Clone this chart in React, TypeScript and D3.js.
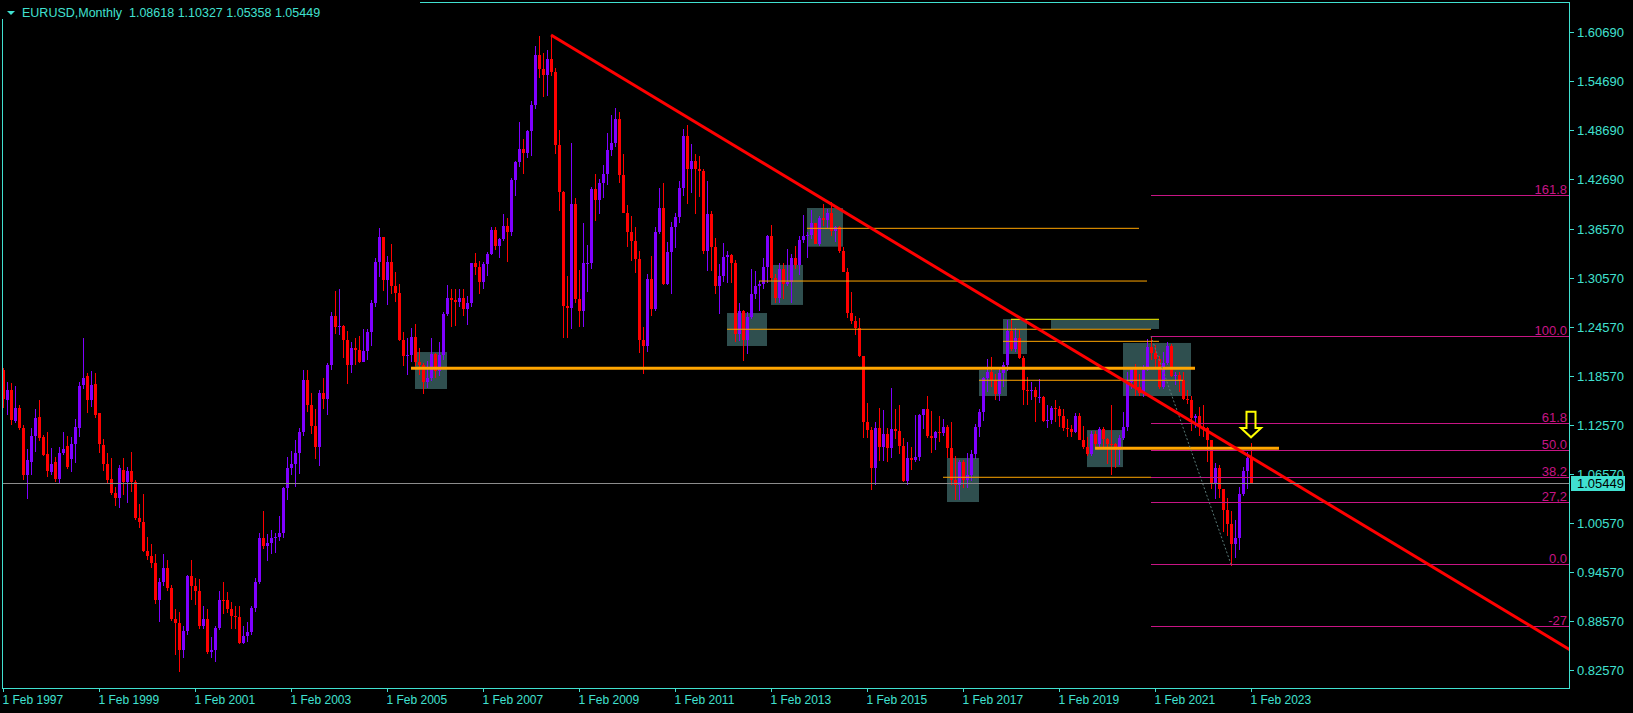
import * as d3 from "d3";

// Monthly EURUSD candles, Feb 1997 .. Feb 2023 (one row per year)
const opens = [
  1.193, 1.156, 1.169, 1.131, 1.147, 1.122, 1.064, 1.081, 1.113, 1.136, 1.111,
  1.090, 1.068, 1.080, 1.060, 1.091, 1.100, 1.084, 1.102, 1.122, 1.175, 1.186, 1.156,
  1.176, 1.140, 1.101, 1.078, 1.060, 1.043, 1.037, 1.071, 1.056, 1.069, 1.056, 1.012,
  1.007, 0.972, 0.965, 0.957, 0.911, 0.934, 0.951, 0.926, 0.888, 0.883, 0.850, 0.873,
  0.941, 0.929, 0.922, 0.880, 0.888, 0.848, 0.850, 0.877, 0.912, 0.911, 0.901, 0.892,
  0.890, 0.859, 0.867, 0.872, 0.902, 0.934, 0.987, 0.977, 0.981, 0.987, 0.989, 0.993,
  1.049, 1.073, 1.078, 1.091, 1.117, 1.181, 1.150, 1.125, 1.099, 1.165, 1.158, 1.199,
  1.259, 1.246, 1.247, 1.230, 1.199, 1.220, 1.218, 1.203, 1.217, 1.240, 1.275, 1.326,
  1.356, 1.304, 1.326, 1.296, 1.288, 1.230, 1.210, 1.212, 1.234, 1.203, 1.199, 1.179,
  1.183, 1.213, 1.192, 1.212, 1.262, 1.281, 1.279, 1.276, 1.282, 1.268, 1.275, 1.325,
  1.320, 1.301, 1.323, 1.336, 1.365, 1.345, 1.354, 1.370, 1.363, 1.426, 1.448, 1.464,
  1.459, 1.486, 1.518, 1.579, 1.562, 1.555, 1.575, 1.558, 1.469, 1.411, 1.272, 1.269,
  1.397, 1.280, 1.266, 1.325, 1.325, 1.415, 1.402, 1.423, 1.434, 1.463, 1.472, 1.501,
  1.432, 1.386, 1.363, 1.351, 1.329, 1.230, 1.223, 1.305, 1.268, 1.363, 1.392, 1.299,
  1.338, 1.369, 1.381, 1.416, 1.480, 1.440, 1.450, 1.439, 1.437, 1.339, 1.385, 1.344,
  1.296, 1.308, 1.332, 1.334, 1.324, 1.237, 1.266, 1.230, 1.258, 1.286, 1.296, 1.299,
  1.319, 1.358, 1.306, 1.282, 1.317, 1.299, 1.301, 1.330, 1.322, 1.352, 1.358, 1.359,
  1.374, 1.348, 1.380, 1.377, 1.386, 1.364, 1.369, 1.339, 1.313, 1.263, 1.253, 1.245,
  1.210, 1.129, 1.120, 1.073, 1.122, 1.099, 1.115, 1.098, 1.121, 1.118, 1.100, 1.057,
  1.086, 1.083, 1.087, 1.138, 1.145, 1.113, 1.110, 1.117, 1.116, 1.124, 1.098, 1.059,
  1.052, 1.080, 1.058, 1.065, 1.090, 1.124, 1.142, 1.184, 1.191, 1.181, 1.164, 1.190,
  1.200, 1.241, 1.219, 1.232, 1.208, 1.169, 1.168, 1.169, 1.160, 1.160, 1.131, 1.132,
  1.147, 1.145, 1.137, 1.122, 1.121, 1.117, 1.137, 1.108, 1.099, 1.090, 1.115, 1.102,
  1.121, 1.109, 1.103, 1.102, 1.095, 1.110, 1.123, 1.178, 1.194, 1.172, 1.165, 1.193,
  1.221, 1.214, 1.207, 1.173, 1.202, 1.223, 1.186, 1.187, 1.181, 1.158, 1.156, 1.134,
  1.137, 1.123, 1.122, 1.107, 1.054, 1.073, 1.048, 1.022, 1.005, 0.980, 0.988, 1.041,
  1.070, 1.08618,
];
const highs = [
  1.196, 1.178, 1.177, 1.174, 1.151, 1.126, 1.097, 1.122, 1.146, 1.156, 1.114,
  1.117, 1.098, 1.087, 1.099, 1.117, 1.112, 1.111, 1.133, 1.179, 1.233, 1.190, 1.192,
  1.190, 1.141, 1.109, 1.091, 1.086, 1.050, 1.077, 1.085, 1.075, 1.093, 1.059, 1.029,
  1.041, 0.989, 0.980, 0.968, 0.939, 0.968, 0.961, 0.930, 0.901, 0.897, 0.879, 0.942,
  0.960, 0.939, 0.937, 0.904, 0.900, 0.866, 0.880, 0.923, 0.933, 0.921, 0.909, 0.904,
  0.904, 0.879, 0.884, 0.904, 0.938, 0.994, 1.020, 0.992, 0.997, 0.994, 1.014, 1.050,
  1.087, 1.094, 1.108, 1.122, 1.193, 1.193, 1.165, 1.146, 1.169, 1.183, 1.202, 1.264,
  1.290, 1.293, 1.248, 1.241, 1.227, 1.232, 1.235, 1.243, 1.244, 1.279, 1.330, 1.367,
  1.356, 1.333, 1.348, 1.313, 1.299, 1.240, 1.233, 1.245, 1.250, 1.220, 1.202, 1.204,
  1.232, 1.214, 1.228, 1.264, 1.298, 1.292, 1.292, 1.292, 1.292, 1.284, 1.325, 1.337,
  1.327, 1.326, 1.338, 1.368, 1.368, 1.355, 1.385, 1.379, 1.428, 1.450, 1.497, 1.476,
  1.487, 1.523, 1.590, 1.602, 1.582, 1.585, 1.604, 1.563, 1.487, 1.413, 1.308, 1.472,
  1.404, 1.316, 1.374, 1.347, 1.418, 1.434, 1.427, 1.445, 1.484, 1.506, 1.514, 1.510,
  1.458, 1.396, 1.382, 1.369, 1.339, 1.246, 1.311, 1.333, 1.368, 1.416, 1.422, 1.350,
  1.375, 1.386, 1.425, 1.488, 1.494, 1.470, 1.458, 1.455, 1.440, 1.425, 1.388, 1.355,
  1.323, 1.349, 1.339, 1.336, 1.328, 1.275, 1.267, 1.264, 1.317, 1.314, 1.302, 1.331,
  1.359, 1.371, 1.311, 1.324, 1.324, 1.342, 1.335, 1.345, 1.357, 1.383, 1.362, 1.389,
  1.374, 1.382, 1.397, 1.391, 1.3995, 1.370, 1.370, 1.344, 1.318, 1.289, 1.260, 1.257,
  1.211, 1.153, 1.124, 1.129, 1.147, 1.144, 1.122, 1.171, 1.146, 1.150, 1.110, 1.105,
  1.099, 1.138, 1.139, 1.146, 1.162, 1.143, 1.119, 1.137, 1.133, 1.126, 1.130, 1.088,
  1.083, 1.083, 1.091, 1.095, 1.127, 1.145, 1.185, 1.207, 1.209, 1.188, 1.196, 1.203,
  1.254, 1.256, 1.245, 1.242, 1.210, 1.185, 1.179, 1.173, 1.182, 1.162, 1.150, 1.149,
  1.157, 1.149, 1.145, 1.133, 1.126, 1.141, 1.141, 1.125, 1.111, 1.118, 1.118, 1.124,
  1.124, 1.110, 1.150, 1.104, 1.114, 1.142, 1.191, 1.197, 1.201, 1.188, 1.200, 1.231,
  1.235, 1.224, 1.211, 1.215, 1.227, 1.225, 1.191, 1.191, 1.191, 1.169, 1.161, 1.139,
  1.148, 1.150, 1.123, 1.108, 1.079, 1.077, 1.048, 1.037, 1.020, 1.009, 1.050, 1.074,
  1.093, 1.10327,
];
const lows = [
  1.147, 1.138, 1.126, 1.128, 1.120, 1.058, 1.035, 1.064, 1.093, 1.106, 1.088,
  1.062, 1.065, 1.056, 1.054, 1.089, 1.072, 1.068, 1.079, 1.111, 1.170, 1.141, 1.148,
  1.134, 1.092, 1.069, 1.054, 1.040, 1.027, 1.024, 1.040, 1.030, 1.044, 1.009, 1.000,
  0.970, 0.961, 0.951, 0.906, 0.885, 0.929, 0.922, 0.886, 0.844, 0.823, 0.840, 0.868,
  0.912, 0.905, 0.876, 0.876, 0.845, 0.840, 0.836, 0.875, 0.894, 0.895, 0.876, 0.876,
  0.858, 0.857, 0.860, 0.868, 0.897, 0.931, 0.974, 0.959, 0.968, 0.969, 0.984, 0.987,
  1.034, 1.064, 1.050, 1.066, 1.112, 1.142, 1.115, 1.084, 1.076, 1.145, 1.138, 1.193,
  1.237, 1.236, 1.208, 1.176, 1.190, 1.200, 1.202, 1.203, 1.206, 1.223, 1.270, 1.307,
  1.290, 1.273, 1.286, 1.277, 1.229, 1.198, 1.187, 1.203, 1.198, 1.187, 1.164, 1.171,
  1.180, 1.183, 1.186, 1.206, 1.260, 1.246, 1.247, 1.270, 1.260, 1.248, 1.271, 1.310,
  1.287, 1.293, 1.308, 1.334, 1.340, 1.330, 1.351, 1.326, 1.357, 1.406, 1.442, 1.434,
  1.453, 1.456, 1.513, 1.551, 1.528, 1.529, 1.553, 1.458, 1.388, 1.233, 1.233, 1.244,
  1.275, 1.246, 1.246, 1.289, 1.317, 1.376, 1.385, 1.404, 1.420, 1.455, 1.467, 1.422,
  1.386, 1.344, 1.327, 1.312, 1.214, 1.188, 1.215, 1.259, 1.265, 1.360, 1.297, 1.297,
  1.286, 1.343, 1.374, 1.406, 1.397, 1.410, 1.384, 1.405, 1.336, 1.314, 1.314, 1.286,
  1.262, 1.301, 1.300, 1.300, 1.228, 1.229, 1.204, 1.213, 1.256, 1.280, 1.266, 1.292,
  1.300, 1.302, 1.275, 1.275, 1.280, 1.296, 1.275, 1.317, 1.310, 1.349, 1.330, 1.354,
  1.348, 1.345, 1.370, 1.367, 1.358, 1.350, 1.337, 1.313, 1.257, 1.250, 1.236, 1.209,
  1.110, 1.110, 1.046, 1.052, 1.082, 1.082, 1.081, 1.085, 1.109, 1.090, 1.056, 1.052,
  1.071, 1.081, 1.082, 1.121, 1.110, 1.091, 1.095, 1.105, 1.112, 1.085, 1.052, 1.034,
  1.034, 1.049, 1.049, 1.057, 1.084, 1.111, 1.131, 1.166, 1.172, 1.157, 1.155, 1.172,
  1.192, 1.216, 1.215, 1.207, 1.151, 1.151, 1.157, 1.130, 1.153, 1.130, 1.122, 1.127,
  1.129, 1.123, 1.118, 1.111, 1.111, 1.116, 1.107, 1.096, 1.088, 1.088, 1.098, 1.098,
  1.099, 1.078, 1.064, 1.073, 1.077, 1.108, 1.119, 1.170, 1.161, 1.162, 1.160, 1.192,
  1.206, 1.195, 1.170, 1.170, 1.199, 1.185, 1.175, 1.166, 1.156, 1.152, 1.119, 1.122,
  1.112, 1.111, 1.081, 1.047, 1.035, 1.036, 0.995, 0.990, 0.9536, 0.963, 0.973, 1.039,
  1.048, 1.05358,
];
const closes = [
  1.158, 1.169, 1.132, 1.147, 1.122, 1.064, 1.083, 1.113, 1.135, 1.110, 1.089,
  1.069, 1.078, 1.060, 1.091, 1.097, 1.074, 1.103, 1.123, 1.174, 1.184, 1.157, 1.175,
  1.138, 1.103, 1.078, 1.058, 1.043, 1.037, 1.073, 1.056, 1.070, 1.056, 1.012, 1.007,
  0.972, 0.965, 0.957, 0.911, 0.934, 0.951, 0.926, 0.888, 0.883, 0.850, 0.873, 0.941,
  0.929, 0.922, 0.880, 0.888, 0.848, 0.850, 0.877, 0.912, 0.911, 0.901, 0.892, 0.890,
  0.859, 0.867, 0.872, 0.902, 0.934, 0.987, 0.977, 0.981, 0.987, 0.989, 0.993, 1.049,
  1.073, 1.078, 1.091, 1.117, 1.181, 1.150, 1.125, 1.099, 1.165, 1.158, 1.199, 1.259,
  1.246, 1.247, 1.230, 1.199, 1.220, 1.218, 1.203, 1.217, 1.240, 1.275, 1.326, 1.356,
  1.304, 1.326, 1.296, 1.288, 1.230, 1.210, 1.212, 1.234, 1.203, 1.199, 1.179, 1.183,
  1.213, 1.192, 1.212, 1.262, 1.281, 1.279, 1.276, 1.282, 1.268, 1.275, 1.325, 1.320,
  1.301, 1.323, 1.336, 1.365, 1.345, 1.354, 1.370, 1.363, 1.426, 1.448, 1.464, 1.459,
  1.486, 1.518, 1.579, 1.562, 1.555, 1.575, 1.558, 1.469, 1.411, 1.272, 1.269, 1.397,
  1.280, 1.266, 1.325, 1.325, 1.415, 1.402, 1.423, 1.434, 1.463, 1.472, 1.501, 1.432,
  1.386, 1.363, 1.351, 1.329, 1.230, 1.223, 1.305, 1.268, 1.363, 1.392, 1.299, 1.338,
  1.369, 1.381, 1.416, 1.480, 1.440, 1.450, 1.439, 1.437, 1.339, 1.385, 1.344, 1.296,
  1.308, 1.332, 1.334, 1.324, 1.237, 1.266, 1.230, 1.258, 1.286, 1.296, 1.299, 1.319,
  1.358, 1.306, 1.282, 1.317, 1.299, 1.301, 1.330, 1.322, 1.352, 1.358, 1.359, 1.374,
  1.348, 1.380, 1.377, 1.386, 1.364, 1.369, 1.339, 1.313, 1.263, 1.253, 1.245, 1.210,
  1.129, 1.120, 1.073, 1.122, 1.099, 1.115, 1.098, 1.121, 1.118, 1.100, 1.057, 1.086,
  1.083, 1.087, 1.138, 1.145, 1.113, 1.110, 1.117, 1.116, 1.124, 1.098, 1.059, 1.052,
  1.080, 1.058, 1.065, 1.090, 1.124, 1.142, 1.184, 1.191, 1.181, 1.164, 1.190, 1.200,
  1.241, 1.219, 1.232, 1.208, 1.169, 1.168, 1.169, 1.160, 1.160, 1.131, 1.132, 1.147,
  1.145, 1.137, 1.122, 1.121, 1.117, 1.137, 1.108, 1.099, 1.090, 1.115, 1.102, 1.121,
  1.109, 1.103, 1.102, 1.095, 1.110, 1.123, 1.178, 1.194, 1.172, 1.165, 1.193, 1.221,
  1.214, 1.207, 1.173, 1.202, 1.223, 1.186, 1.187, 1.181, 1.158, 1.156, 1.134, 1.137,
  1.123, 1.122, 1.107, 1.054, 1.073, 1.048, 1.022, 1.005, 0.980, 0.988, 1.041, 1.070,
  1.086, 1.05449,
];

const symbol = "EURUSD,Monthly";
const lastBar = ["1.08618", "1.10327", "1.05358", "1.05449"];
const bidPrice = 1.05449;

const priceTicks = [1.6069, 1.5469, 1.4869, 1.4269, 1.3657, 1.3057, 1.2457, 1.1857, 1.1257, 1.0657, 1.0057, 0.9457, 0.8857, 0.8257];
const dateTicks = ["1997-02", "1999-02", "2001-02", "2003-02", "2005-02", "2007-02", "2009-02", "2011-02", "2013-02", "2015-02", "2017-02", "2019-02", "2021-02", "2023-02"];

// analysis objects (month, price)
const zones = [
  { from: "2005-09", to: "2006-05", top: 1.2153, bottom: 1.17 },
  { from: "2012-03", to: "2013-01", top: 1.2631, bottom: 1.2227 },
  { from: "2013-02", to: "2013-10", top: 1.322, bottom: 1.273 },
  { from: "2013-11", to: "2014-08", top: 1.3918, bottom: 1.3444 },
  { from: "2016-10", to: "2017-06", top: 1.0854, bottom: 1.0315 },
  { from: "2017-06", to: "2018-01", top: 1.1933, bottom: 1.1614 },
  { from: "2017-12", to: "2018-06", top: 1.2558, bottom: 1.2129 },
  { from: "2018-12", to: "2021-03", top: 1.2546, bottom: 1.2435 },
  { from: "2019-09", to: "2020-06", top: 1.1197, bottom: 1.0743 },
  { from: "2020-06", to: "2021-11", top: 1.2264, bottom: 1.1614 },
];
const levels = [
  { from: "2013-11", to: "2020-10", price: 1.3669, kind: "thin" },
  { from: "2012-11", to: "2020-12", price: 1.3023, kind: "thin" },
  { from: "2012-03", to: "2021-01", price: 1.2432, kind: "thin" },
  { from: "2018-02", to: "2021-03", price: 1.2554, kind: "yellow" },
  { from: "2017-12", to: "2021-03", price: 1.2284, kind: "thin" },
  { from: "2017-06", to: "2021-09", price: 1.1807, kind: "thin" },
  { from: "2016-09", to: "2021-01", price: 1.0618, kind: "thin" },
  { from: "2005-08", to: "2021-12", price: 1.1954, kind: "thick" },
  { from: "2019-11", to: "2023-09", price: 1.0973, kind: "thick" },
];
const trendFrom = { month: "2008-07", price: 1.6038 };
const trendTo = { month: "2023-06", price: 1.0744 };
const fibHigh = { month: "2021-01", price: 1.2346 };
const fibLow = { month: "2022-09", price: 0.9552 };
const fibRatios = [1.618, 1.0, 0.618, 0.5, 0.382, 0.272, 0.0, -0.27];
const fibLabels = ["161.8", "100.0", "61.8", "50.0", "38.2", "27,2", "0.0", "-27"];
const arrowMark = { month: "2023-02", top: 1.1422, neck: 1.1221, tip: 1.1108 };

const monthIndex = (s: string) => {
  const [yy, mm] = s.split("-").map(Number);
  return (yy - 1997) * 12 + (mm - 2);
};
const monthNames = ["Jan", "Feb", "Mar", "Apr", "May", "Jun", "Jul", "Aug", "Sep", "Oct", "Nov", "Dec"];

const width = 1633;
const height = 713;
const plot = { left: 2, top: 2, right: 1569, bottom: 688 };
const teal = "#40E0D0";
const bull = "#8000FF";
const bear = "#FF0000";
const fibColor = "#C71585";
const font = "'Liberation Sans', Arial, sans-serif";

export default function App() {
  const x = d3.scaleLinear().domain([0, 312]).range([3, 1251]);
  const y = d3.scaleLinear().domain([0.8857, 1.3657]).range([621, 229.3]);
  const n = Math.min(opens.length, highs.length, lows.length, closes.length);
  const idx = d3.range(n);

  const tx = (m: number) => x(m);
  const trendM1 = monthIndex(trendFrom.month);
  const trendM2 = monthIndex(trendTo.month);
  const extM = 420;
  const trendEnd = trendFrom.price + ((trendTo.price - trendFrom.price) * (extM - trendM1)) / (trendM2 - trendM1);

  const fibRange = fibHigh.price - fibLow.price;
  const fibStart = x(monthIndex(fibHigh.month));

  const am = x(monthIndex(arrowMark.month));
  const aTop = y(arrowMark.top);
  const aNeck = y(arrowMark.neck);
  const aTip = y(arrowMark.tip);
  const arrowPath = `M${am - 4.5},${aTop} L${am + 4.5},${aTop} L${am + 4.5},${aNeck} L${am + 10},${aNeck} L${am},${aTip} L${am - 10},${aNeck} L${am - 4.5},${aNeck} Z`;

  return (
    <div style={{ position: "fixed", left: 0, top: 0, width, height, background: "#000" }}>
      <svg width={width} height={height} style={{ display: "block" }}>
        <defs>
          <clipPath id="plotClip">
            <rect x={plot.left} y={plot.top} width={plot.right - plot.left} height={plot.bottom - plot.top} />
          </clipPath>
        </defs>
        <rect x={0} y={0} width={width} height={height} fill="#000" />

        <g clipPath="url(#plotClip)">
          {zones.map((z, i) => (
            <rect
              key={"z" + i}
              x={x(monthIndex(z.from))}
              y={y(z.top)}
              width={x(monthIndex(z.to)) - x(monthIndex(z.from))}
              height={y(z.bottom) - y(z.top)}
              fill="#2F4F4F"
            />
          ))}

          <g shapeRendering="crispEdges">
            {idx.map((i) => {
              const o = opens[i];
              const c = closes[i];
              const cx = Math.round(x(i));
              const col = c < o ? bear : bull;
              const top = y(Math.max(o, c));
              const bot = y(Math.min(o, c));
              return (
                <g key={"c" + i}>
                  <line x1={cx + 0.5} x2={cx + 0.5} y1={y(highs[i])} y2={y(lows[i])} stroke={col} strokeWidth={1} />
                  <rect x={cx - 1} y={top} width={3} height={Math.max(1, bot - top)} fill={col} />
                </g>
              );
            })}
          </g>

          {levels.map((l, i) => (
            <line
              key={"l" + i}
              x1={tx(monthIndex(l.from))}
              x2={tx(monthIndex(l.to))}
              y1={y(l.price)}
              y2={y(l.price)}
              stroke={l.kind === "yellow" ? "#FFFF00" : "#FFA500"}
              strokeWidth={l.kind === "thick" ? 3 : 1}
            />
          ))}

          {fibRatios.map((r, i) => {
            const py = Math.round(y(fibLow.price + r * fibRange)) + 0.5;
            return (
              <g key={"f" + i}>
                <line x1={fibStart} x2={plot.right} y1={py} y2={py} stroke={fibColor} strokeWidth={1} />
                <text x={plot.right - 2} y={py - 2} textAnchor="end" fill={fibColor} fontSize={13} fontFamily={font}>
                  {fibLabels[i]}
                </text>
              </g>
            );
          })}
          <line
            x1={x(monthIndex(fibHigh.month))}
            y1={y(fibHigh.price)}
            x2={x(monthIndex(fibLow.month))}
            y2={y(fibLow.price)}
            stroke="#5A7A78"
            strokeWidth={1}
            strokeDasharray="2,2"
          />

          <line
            x1={x(trendM1)}
            y1={y(trendFrom.price)}
            x2={x(extM)}
            y2={y(trendEnd)}
            stroke="#FF0000"
            strokeWidth={3}
          />

          <line
            x1={plot.left}
            x2={plot.right}
            y1={Math.round(y(bidPrice)) + 0.5}
            y2={Math.round(y(bidPrice)) + 0.5}
            stroke="#8C8C8C"
            strokeWidth={1}
          />

          <path d={arrowPath} fill="none" stroke="#FFFF00" strokeWidth={2} />
        </g>

        {/* frame */}
        <rect
          x={plot.left + 0.5}
          y={plot.top + 0.5}
          width={plot.right - plot.left}
          height={plot.bottom - plot.top}
          fill="none"
          stroke={teal}
          strokeWidth={1}
          shapeRendering="crispEdges"
        />

        {/* price axis */}
        {priceTicks.map((p, i) => {
          const py = Math.round(y(p)) + 0.5;
          return (
            <g key={"p" + i}>
              <line x1={plot.right} x2={plot.right + 5} y1={py} y2={py} stroke={teal} strokeWidth={1} />
              <text x={1577} y={py + 4.5} fill={teal} fontSize={13} fontFamily={font}>
                {p.toFixed(5)}
              </text>
            </g>
          );
        })}
        <rect x={1571} y={Math.round(y(bidPrice)) - 7} width={54} height={15} fill={teal} />
        <text x={1577} y={Math.round(y(bidPrice)) + 5} fill="#000" fontSize={13} fontFamily={font}>
          {bidPrice.toFixed(5)}
        </text>

        {/* time axis */}
        {dateTicks.map((d, i) => {
          const m = monthIndex(d);
          const px = Math.round(x(m)) + 0.5;
          const [yy, mm] = d.split("-").map(Number);
          return (
            <g key={"d" + i}>
              <line x1={px} x2={px} y1={plot.bottom} y2={plot.bottom + 4} stroke={teal} strokeWidth={1} />
              <text x={px - 1} y={704} fill={teal} fontSize={12} fontFamily={font}>
                {`1 ${monthNames[mm - 1]} ${yy}`}
              </text>
            </g>
          );
        })}

        {/* header */}
        <rect x={0} y={0} width={420} height={19} fill="#000" />
        <polygon points="7,11 15,11 11,15" fill={teal} />
        <text x={22} y={17} fill={teal} fontSize={12.5} fontFamily={font} xmlSpace="preserve">
          {`${symbol}  ${lastBar.join(" ")}`}
        </text>
      </svg>
    </div>
  );
}
